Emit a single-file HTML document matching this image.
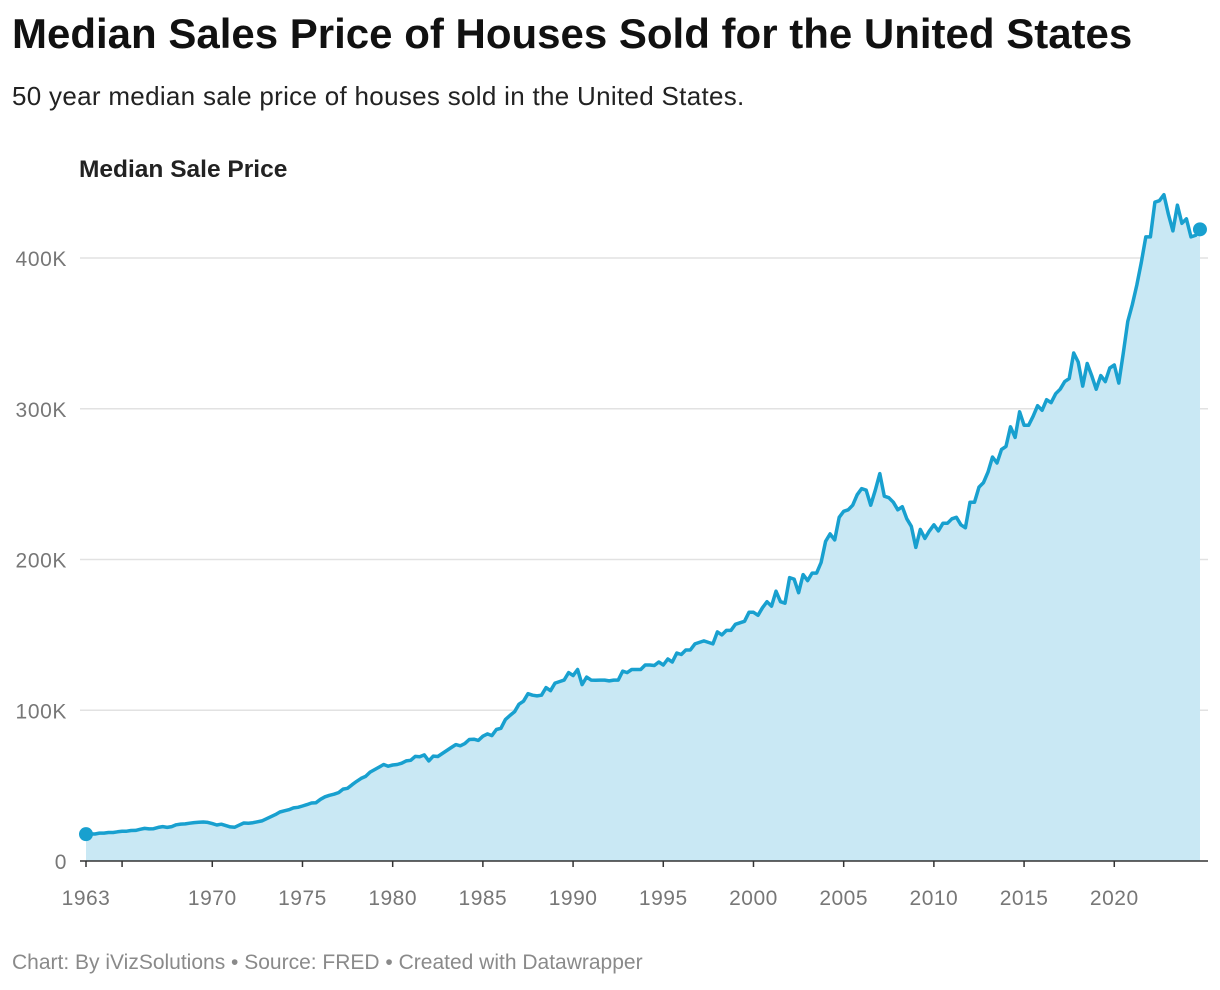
<!DOCTYPE html>
<html><head><meta charset="utf-8">
<style>
body{margin:0;width:1220px;height:990px;background:#fff;font-family:"Liberation Sans",Arial,sans-serif;overflow:hidden;position:relative}
#title{position:absolute;left:12px;top:10px;font-size:42px;font-weight:bold;color:#111;white-space:nowrap}
#sub{position:absolute;left:12px;top:81px;font-size:26px;letter-spacing:0.3px;color:#222;white-space:nowrap}
#foot{position:absolute;left:12px;top:951px;font-size:21px;color:#8a8a8a;white-space:nowrap}
svg{position:absolute;left:0;top:0}
</style></head><body>
<div id="title">Median Sales Price of Houses Sold for the United States</div>
<div id="sub">50 year median sale price of houses sold in the United States.</div>
<div id="foot">Chart: By iVizSolutions • Source: FRED • Created with Datawrapper</div>
<svg id="chart" width="1220" height="990"></svg>
<script>
const startYear = 1963;
const yTicks = [0,100000,200000,300000,400000];
const yTickLabels = ["0","100K","200K","300K","400K"];
const xTickYears = [1963,1965,1970,1975,1980,1985,1990,1995,2000,2005,2010,2015,2020];
const xTickLabels = ["1963","","1970","1975","1980","1985","1990","1995","2000","2005","2010","2015","2020"];
const prices = [
17800,18000,17900,18500, 18500,18900,18900,19400, 19700,19800,20200,20300, 21000,21600,21300,21400,
22300,22800,22300,22800, 24000,24500,24600,25100, 25500,25700,25900,25600, 24800,23900,24400,23500,
22600,22400,23800,25200, 25100,25400,26000,26600, 28000,29400,30800,32500, 33300,34000,35200,35600,
36500,37400,38500,38700, 40900,42600,43600,44300, 45400,47700,48200,50600, 52800,54800,56100,59000,
60600,62300,64000,62900, 63700,64000,64900,66400, 66800,69400,69200,70400, 66400,69600,69300,71300,
73300,75300,77200,76400, 77900,80600,80800,80000, 82800,84300,83200,87200, 88000,93800,96500,
99000,104000,106000,111000, 110000,109500,110000,115000, 113000,118000,119000,120000, 125000,123000,127000,117000,
122000,120000,119900,120000, 120000,119500,120000,120000, 126000,125000,127000,127000, 127000,130000,130000,129700,
132000,130000,134000,132000, 138000,137000,140000,140000, 144000,145000,146000,145000, 144000,152000,150000,153000,
153000,157000,158000,159000, 165000,165000,163000,168000, 172000,169000,179000,172000, 171000,188000,187000,178000,
190000,186000,191000,191000, 198000,212000,217000,213000, 228000,232000,233000,236000, 243000,247000,246000,236000,
246000,257000,242000,241000, 238000,233000,235000,227000, 222000,208000,220000,214000, 219000,223000,219000,224000,
224000,227000,228000,223000, 221000,238000,238000,248000, 251000,258000,268000,264000, 273000,275000,288000,281000,
298000,289000,289000,295000, 302000,299000,306000,304000, 310000,313000,318000,320000, 337000,331000,315000,330000,
322000,313000,322000,318000, 327000,329000,317000,337000, 358000,369000,382000,397000, 414000,414000,437000,438000,
442000,429000,418000,435000, 423000,426000,414000,415000, 419000
];
const svg=document.getElementById('chart');const NS="http://www.w3.org/2000/svg";
function X(t){return 86+(t-startYear)*18.04;}
function Y(v){return 861-v*0.0015075;}
function mk(tag,attrs){const e=document.createElementNS(NS,tag);for(const k in attrs)e.setAttribute(k,attrs[k]);svg.appendChild(e);return e;}
yTicks.forEach((v,i)=>{
  if(v>0){const g=mk('line',{x1:80,x2:1208,y1:Y(v),y2:Y(v),stroke:'#e2e2e2','stroke-width':1.5});
  
  }
  const t=mk('text',{x:67,y:Y(v)+8,'text-anchor':'end','font-size':21,'letter-spacing':0.6,fill:'#777','font-family':'Liberation Sans, sans-serif'});
  t.textContent=yTickLabels[i];
  
  
});
const t0=mk('text',{x:79,y:177,'font-size':24.5,'font-weight':'bold',fill:'#222','font-family':'Liberation Sans, sans-serif'});
t0.textContent='Median Sale Price';


const pts=prices.map((v,i)=>[X(startYear+i/4),Y(v)]);
let d='M'+pts.map(p=>p[0].toFixed(1)+','+p[1].toFixed(1)).join('L');
const area=mk('path',{d:d+'L'+pts[pts.length-1][0].toFixed(1)+','+Y(0)+'L'+pts[0][0].toFixed(1)+','+Y(0)+'Z',fill:'#c9e8f4'});


const base=mk('line',{x1:80,x2:1208,y1:Y(0),y2:Y(0),stroke:'#333','stroke-width':1.5});


const line=mk('path',{d:d,fill:'none',stroke:'#18a0cf','stroke-width':3.5,'stroke-linejoin':'round'});


[pts[0],pts[pts.length-1]].forEach(p=>{
  const c=mk('circle',{cx:p[0],cy:p[1],r:7,fill:'#18a0cf'});
  
  
});
xTickYears.forEach((yr,i)=>{
  const tk=mk('line',{x1:X(yr),x2:X(yr),y1:Y(0),y2:Y(0)+6,stroke:'#333','stroke-width':1.5});
  
  
  if(xTickLabels[i]){
    const t=mk('text',{x:X(yr),y:905,'text-anchor':'middle','font-size':21,'letter-spacing':0.5,fill:'#777','font-family':'Liberation Sans, sans-serif'});
    t.textContent=xTickLabels[i];
    
    
  }
});
</script>
</body></html>
